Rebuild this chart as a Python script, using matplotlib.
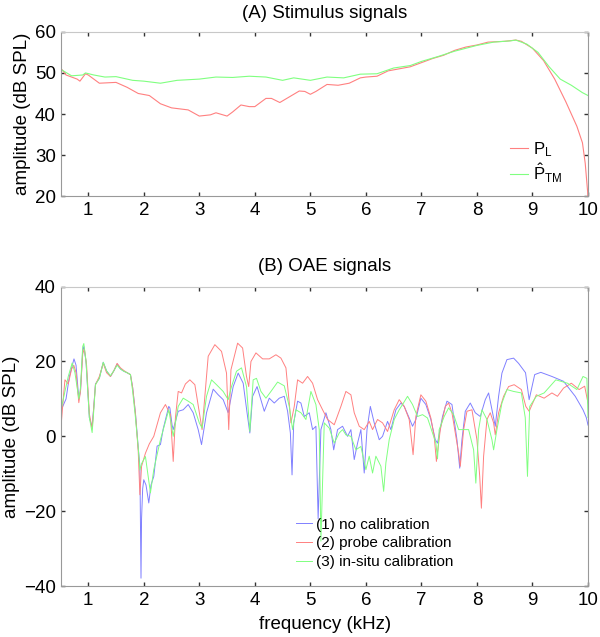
import matplotlib
matplotlib.use("Agg")
import matplotlib.pyplot as plt

plt.rcParams['font.family'] = ['Liberation Sans', 'DejaVu Sans']
plt.rcParams['mathtext.fontset'] = 'custom'
plt.rcParams['mathtext.rm'] = 'Liberation Sans'
plt.rcParams['mathtext.it'] = 'Liberation Sans:italic'

# ---------------- (A) Stimulus signals ----------------
f_PL = [0.515, 0.6, 0.8, 0.85, 0.95, 1.0, 1.2, 1.5, 1.7, 1.9, 2.1, 2.3, 2.5, 2.8, 3.0,
        3.2, 3.3, 3.5, 3.6, 3.75, 3.9, 4.0, 4.2, 4.3, 4.45, 4.6, 4.8, 4.9, 5.0, 5.1,
        5.3, 5.5, 5.7, 5.9, 6.0, 6.2, 6.4, 6.6, 6.8, 7.0, 7.2, 7.4, 7.6, 7.8, 8.0,
        8.2, 8.5, 8.7, 8.8, 9.0, 9.2, 9.4, 9.6, 9.8, 9.9, 9.95, 10.0]
PL = [51, 49.5, 48.5, 48, 49.8, 49.5, 47.5, 47.7, 46.5, 45, 44.5, 42.5, 41.5, 41, 39.5,
      39.8, 40.3, 39.5, 40.5, 42.2, 41.8, 41.8, 43.8, 43.8, 42.8, 44, 45.6, 45.5, 44.8, 45.5,
      47.2, 47, 47.5, 48.8, 49, 49.2, 50.5, 51, 51.5, 52.5, 53.5, 54.3, 55.5, 56.3, 56.8,
      57.5, 57.7, 58, 57.7, 56, 53, 48.5, 43, 37, 33, 28, 20]

f_PTM = [0.515, 0.7, 0.9, 0.95, 1.1, 1.3, 1.5, 1.8, 2.0, 2.3, 2.6, 3.0, 3.3, 3.6, 3.9,
         4.2, 4.5, 4.7, 5.0, 5.3, 5.6, 5.9, 6.2, 6.5, 6.8, 7.0, 7.3, 7.6, 8.0, 8.3,
         8.6, 8.7, 8.9, 9.1, 9.3, 9.5, 9.7, 9.9, 10.0]
PTM = [50.8, 49.3, 49.5, 50, 49.5, 49, 49.1, 48.2, 48, 47.5, 48.2, 48.5, 49, 48.9, 49.2,
       49, 48.2, 48.8, 48.2, 49, 48.8, 49.7, 49.8, 51.2, 51.8, 52.8, 54, 55.3, 56.7, 57.5,
       57.8, 58, 57, 55, 51.5, 48.5, 47, 45.2, 44.5]

# ---------------- (B) OAE signals ----------------
f_nocal = [0.515, 0.60, 0.66, 0.743, 0.78, 0.83, 0.86, 0.90, 0.92, 0.96, 1.02, 1.07, 1.10, 1.13,
           1.20, 1.27, 1.33, 1.40, 1.46, 1.52, 1.58, 1.64, 1.70, 1.76, 1.80, 1.85, 1.90, 1.93,
           1.95, 1.96, 1.98, 2.00, 2.04, 2.09, 2.13, 2.18, 2.24, 2.30, 2.35, 2.45, 2.47, 2.51,
           2.53, 2.62, 2.71, 2.80, 2.89, 2.98, 3.04, 3.13, 3.25, 3.34, 3.43, 3.52, 3.61, 3.70,
           3.79, 3.86, 3.91, 3.96, 4.04, 4.11, 4.17, 4.26, 4.35, 4.44, 4.53, 4.59, 4.64, 4.67,
           4.70, 4.77, 4.83, 4.89, 4.98, 5.04, 5.10, 5.14, 5.19, 5.28, 5.37, 5.42, 5.49, 5.58,
           5.67, 5.73, 5.79, 5.85, 5.91, 5.97, 6.02, 6.08, 6.15, 6.24, 6.30, 6.39, 6.45, 6.54,
           6.63, 6.69, 6.78, 6.84, 6.90, 6.99, 7.08, 7.17, 7.25, 7.29, 7.38, 7.46, 7.55, 7.64,
           7.69, 7.73, 7.79, 7.88, 7.97, 8.06, 8.15, 8.21, 8.27, 8.33, 8.39, 8.45, 8.54, 8.66,
           8.75, 8.875, 8.94, 9.04, 9.15, 9.35, 9.56, 9.77, 9.91, 9.97, 10.0]
nocal = [7.1, 10, 16, 20.7, 19, 10, 12, 23, 24, 20, 5, 2.5, 8, 14,
         15.5, 19.8, 17.5, 16, 17.5, 19.3, 18, 17.4, 17, 16.5, 13, 6.2, -3, -8,
         -37.9, -22, -14, -11.6, -13, -17.8, -13, -10.7, -2.6, -2.2, 2, 8.0, 7.6, 3,
         1.8, 6.7, 7.1, 8.5, 6.3, 1.8, -2.2, 6.3, 12.6, 11.1, 9.8, 6.3, 13.3, 16.9,
         14.2, 6.3, 0.9, 10.7, 13.3, 9.8, 6.7, 10.2, 8.9, 10.2, 10.7, 6.7, 0.9, -10.3,
         3.6, 9.4, 8.9, 5.3, 6.3, 1.8, 2.7, -22, 1.8, 6.3, 1.8, -3.6, 1.8, 2.7,
         0, 1.8, -6.2, -1.8, 1.8, -9.8, 1.8, 8.0, 3.6, -0.9, 0, 4.0, 1.8, 7.1,
         8.9, 8.0, 4.9, 2.7, 4.5, 10.2, 8.5, 4.5, -0.9, -1.8, 5.3, 9.4, 8.5, -0.9,
         -8.5, -0.9, 6.7, 8.9, 6.3, 5.3, 9.8, 11.6, 7.1, 2.7, 10.7, 16.9, 20.5, 20.9,
         19.5, 17, 9.8, 16.5, 17.1, 16.0, 14.7, 10.7, 7.1, 5, 3]

f_probe = [0.515, 0.55, 0.58, 0.64, 0.70, 0.74, 0.78, 0.83, 0.86, 0.90, 0.93, 0.97, 1.02, 1.07,
           1.10, 1.13, 1.20, 1.27, 1.33, 1.40, 1.46, 1.52, 1.58, 1.64, 1.70, 1.76, 1.80, 1.85,
           1.90, 1.93, 1.96, 2.03, 2.10, 2.18, 2.30, 2.39, 2.48, 2.53, 2.57, 2.62, 2.68, 2.75,
           2.83, 2.92, 3.0, 3.05, 3.10, 3.16, 3.28, 3.40, 3.49, 3.53, 3.57, 3.69, 3.78, 3.85,
           3.89, 3.93, 4.02, 4.14, 4.26, 4.38, 4.47, 4.56, 4.62, 4.65, 4.71, 4.77, 4.86, 4.95,
           5.04, 5.13, 5.22, 5.31, 5.43, 5.55, 5.64, 5.73, 5.79, 5.88, 5.97, 6.06, 6.12, 6.21,
           6.30, 6.39, 6.51, 6.60, 6.69, 6.78, 6.82, 6.85, 6.90, 6.99, 7.08, 7.17, 7.23, 7.27,
           7.34, 7.43, 7.49, 7.55, 7.61, 7.67, 7.70, 7.76, 7.82, 7.91, 8.0, 8.05, 8.08, 8.12,
           8.18, 8.24, 8.30, 8.33, 8.39, 8.48, 8.57, 8.67, 8.8, 8.88, 8.94, 9.07, 9.21, 9.35,
           9.45, 9.56, 9.70, 9.84, 9.94, 10.0]
probe = [3.6, 10, 15.1, 14, 18, 19, 17, 9, 12, 22, 23.5, 19, 6, 2,
         8, 13.8, 16, 19.5, 17, 16, 17.5, 19.5, 18.3, 17.6, 17, 16.5, 13, 6,
         -4, -15.6, -8, -4.5, -2, 0, 6.3, 8.5, 5.8, -6.7, 5, 12.0, 11.6, 14,
         15.1, 13.8, 6.3, 1.8, 10.7, 21.4, 24.5, 22.7, 16.9, 1.8, 17.8, 24.9, 23.6, 16.0,
         13.3, 20.0, 22.3, 20.7, 20.7, 21.8, 20.9, 18.3, 8.9, 3.6, 8.0, 15.1, 14.2, 16.0,
         14.2, 9.8, 7.1, 4.5, 3.1, 8.0, 12.0, 11.1, 6.3, 2.7, 1.8, 4.0, 1.8, 4.5,
         3.6, 1.3, 7.1, 9.8, 8.0, 4.5, -0.9, -4.9, 5.3, 11.1, 9.4, 4.9, 0, -6.7,
         1.8, 8.0, 8.9, 6.3, 0.9, -4.5, -8.0, 1.8, 6.7, 7.1, -0.9, -10.7, -19.2, -5.3,
         4.5, 6.3, 3.6, 0.4, 6.3, 10.7, 13.3, 13.8, 12.5, 8, 6.7, 11.1, 10.2, 11.6,
         10.7, 12.9, 14.2, 12.5, 13.4, 8.9]

f_insitu = [0.515, 0.58, 0.64, 0.71, 0.76, 0.83, 0.86, 0.90, 0.92, 0.96, 1.02, 1.07, 1.10, 1.13,
            1.20, 1.27, 1.33, 1.40, 1.46, 1.52, 1.58, 1.64, 1.70, 1.76, 1.80, 1.85, 1.90, 1.93,
            1.96, 2.03, 2.12, 2.18, 2.30, 2.45, 2.53, 2.62, 2.71, 2.80, 2.89, 3.0, 3.05, 3.13,
            3.22, 3.31, 3.43, 3.52, 3.58, 3.67, 3.76, 3.85, 3.91, 3.97, 4.03, 4.11, 4.20, 4.29,
            4.41, 4.53, 4.62, 4.68, 4.74, 4.83, 4.92, 5.01, 5.10, 5.16, 5.19, 5.25, 5.34, 5.43,
            5.52, 5.58, 5.64, 5.73, 5.82, 5.91, 6.0, 6.06, 6.12, 6.18, 6.27, 6.32, 6.36, 6.42,
            6.51, 6.60, 6.66, 6.75, 6.84, 6.93, 7.02, 7.11, 7.20, 7.26, 7.29, 7.32, 7.41, 7.49,
            7.58, 7.67, 7.76, 7.85, 7.94, 7.98, 8.03, 8.09, 8.18, 8.27, 8.30, 8.36, 8.45, 8.54,
            8.66, 8.8, 8.87, 8.91, 8.95, 9.07, 9.21, 9.42, 9.63, 9.80, 9.91, 9.98, 10.0]
insitu = [7.5, 12, 16, 19.6, 17, 10, 13, 24, 24.8, 20, 5, 1, 7, 13.8,
          15.5, 19.8, 17.5, 16.2, 17.5, 19, 18, 17.4, 17, 16.5, 12, 5, -3, -9,
          -7.3, -5.4, -15.1, -8.9, -0.9, 7.1, 0, 8.0, 10.2, 9.4, 8.5, 3.6, 2.2, 10.7,
          15.1, 13.8, 12.0, 9.8, 13.3, 17.4, 18.3, 13.3, 1.3, 15.1, 15.5, 12.0, 10.2, 12.0,
          14.5, 13.5, 8.0, 1.8, 7.1, 6.3, 4.5, 12.0, 8.5, 1.8, -28, 3.6, 2.2, -1.8,
          0.9, 1.8, 0.4, 0, -3.6, -2.7, -8.9, -5.3, -9.8, -5.3, -8.0, -14.7, -7.1, -0.9,
          4.5, 7.1, 8.5, 10.7, 8.5, 5.3, 5.8, 4.9, 0.9, -1.8, -6, 1.8, 5.3, 7.6,
          5.8, 1.8, 1.8, 1.8, -3.6, -12.5, 1.8, 7.1, 4.5, -0.9, -3.6, 1.8, 8.9, 12.5,
          12.0, 11.6, 5, -10.7, 8, 10.7, 11.6, 15.1, 14.2, 12.5, 16, 15.5, 5]

xticks = [1, 2, 3, 4, 5, 6, 7, 8, 9, 10]
yticks_A = [20, 30, 40, 50, 60]
yticks_B = [-40, -20, 0, 20, 40]

C_RED = '#ff8080'
C_GREEN = '#80ff80'
C_BLUE = '#8080ff'
FS = 13.5

fig = plt.figure(figsize=(6.0, 6.37), dpi=100)
axA = fig.add_axes([0.1022, 0.692, 0.8778, 0.258])
axB = fig.add_axes([0.1022, 0.080, 0.8778, 0.470])


def style(ax, yticks):
    ax.set_xlim(0.515, 10.0)
    ax.set_ylim(yticks[0], yticks[-1])
    ax.set_xticks(xticks)
    ax.set_yticks(yticks)
    ax.tick_params(direction='in', length=3, width=1.0, color='#333333',
                   top=True, right=True, labelsize=FS, pad=4)
    for s in ax.spines.values():
        s.set_color('#999999')
        s.set_linewidth(0.8)
    ax.spines['top'].set_color('#c8c8c8')
    ax.set_ylabel('amplitude (dB SPL)', fontsize=FS, labelpad=3)


axA.plot(f_PL, PL, color=C_RED, lw=0.8, label=r'$\mathrm{P}_{\mathrm{L}}$')
axA.plot(f_PTM, PTM, color=C_GREEN, lw=0.8, label=r'$\hat{\mathrm{P}}_{\mathrm{TM}}$')
style(axA, yticks_A)
axA.set_title('(A) Stimulus signals', fontsize=FS, pad=10)
axA.legend(loc='upper left', bbox_to_anchor=(0.852, 0.34), frameon=False, fontsize=12,
           handlelength=1.1, handletextpad=0.3, labelspacing=0.15, borderpad=0, borderaxespad=0)

axB.plot(f_nocal, nocal, color=C_BLUE, lw=0.7, label='(1) no calibration')
axB.plot(f_probe, probe, color=C_RED, lw=0.7, label='(2) probe calibration')
axB.plot(f_insitu, insitu, color=C_GREEN, lw=0.7, label='(3) in-situ calibration')
style(axB, yticks_B)
axB.set_title('(B) OAE signals', fontsize=FS, pad=11)
axB.set_xlabel('frequency (kHz)', fontsize=FS, labelpad=5)
axB.legend(loc='upper left', bbox_to_anchor=(0.445, 0.228), frameon=False, fontsize=11,
           handlelength=1.1, handletextpad=0.2, labelspacing=0.3, borderpad=0, borderaxespad=0)

fig.savefig('out.png', dpi=100, facecolor='white')
